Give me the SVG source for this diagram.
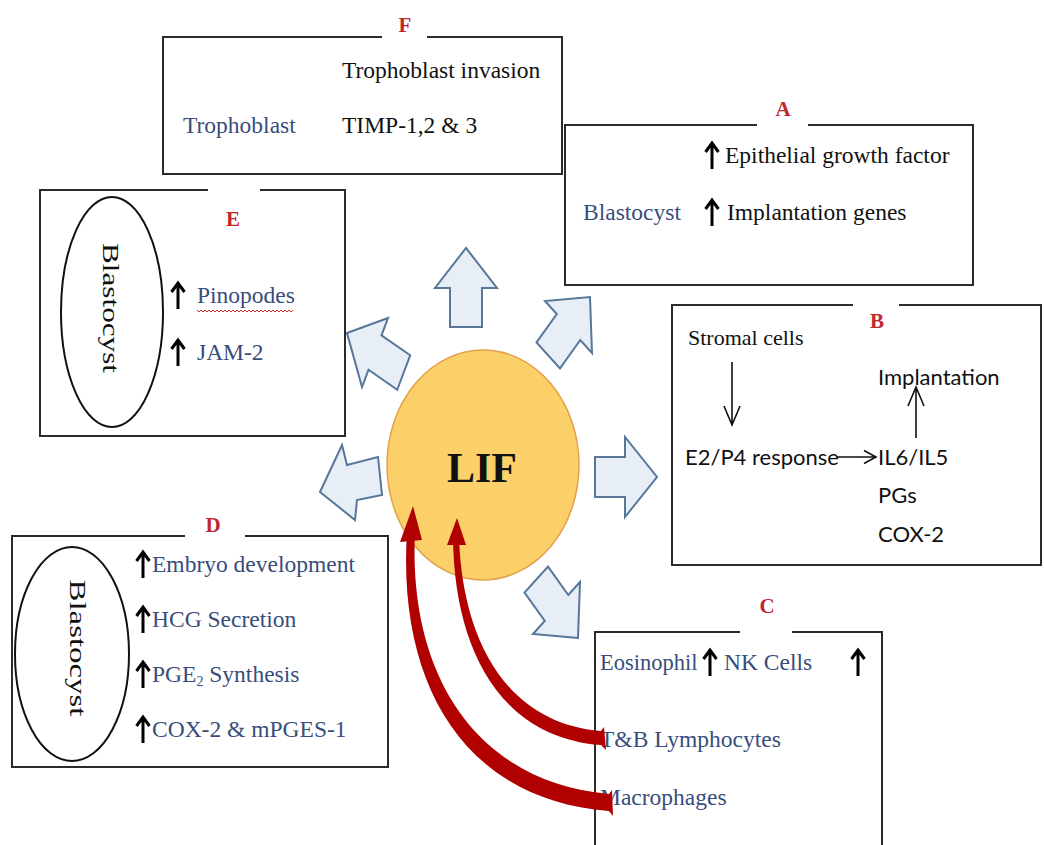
<svg xmlns="http://www.w3.org/2000/svg" width="1044" height="845" viewBox="0 0 1044 845">
<style>
.box{fill:none;stroke:#2b2b2b;stroke-width:2}
.lbl{font-family:"Liberation Serif",serif;font-size:21px;font-weight:bold;fill:#c0272d;text-anchor:middle}
.t{font-family:"Liberation Serif",serif;font-size:23.5px;fill:#111}
.b{font-family:"Liberation Serif",serif;font-size:23.5px;fill:#384d7c}
.s{font-family:Lato,"Liberation Sans",sans-serif;font-size:22px;fill:#111}
.up{fill:none;stroke:#000;stroke-width:3;stroke-linejoin:miter}
.thin{fill:none;stroke:#111;stroke-width:1.6}
.blk{fill:#e8eef6;stroke:#56779a;stroke-width:2;stroke-linejoin:miter}
.red{fill:#b00000}
</style>
<defs>
<path id="ua" d="M0,6 V-19 M-6.5,-11 L0,-20 L6.5,-11"/>
</defs>

<g id="F">
<path class="box" d="M382,37 H163 V174 H562 V37 H427"/>
<text class="lbl" x="405" y="32">F</text>
<text class="t" x="342" y="78">Trophoblast invasion</text>
<text class="b" x="183" y="133">Trophoblast</text>
<text class="t" x="342" y="133">TIMP-1,2 &amp; 3</text>
</g>

<g id="A">
<path class="box" d="M757,125 H565 V285 H973 V125 H808"/>
<text class="lbl" x="783" y="116">A</text>
<use href="#ua" class="up" x="712" y="163"/>
<text class="t" x="725" y="163">Epithelial growth factor</text>
<text class="b" x="583" y="220">Blastocyst</text>
<use href="#ua" class="up" x="712" y="220"/>
<text class="t" x="727" y="220">Implantation genes</text>
</g>

<g id="E">
<path class="box" d="M208,190 H40 V436 H345 V190 H260"/>
<text class="lbl" x="233" y="226">E</text>
<ellipse cx="112" cy="312" rx="51" ry="115" fill="none" stroke="#111" stroke-width="2"/>
<text class="t" transform="translate(103,308) rotate(90)" text-anchor="middle" textLength="130" lengthAdjust="spacingAndGlyphs">Blastocyst</text>
<use href="#ua" class="up" x="178" y="303"/>
<text class="b" x="197" y="303">Pinopodes</text>
<path d="M197,310 l2,2 l2,-2 l2,2 l2,-2 l2,2 l2,-2 l2,2 l2,-2 l2,2 l2,-2 l2,2 l2,-2 l2,2 l2,-2 l2,2 l2,-2 l2,2 l2,-2 l2,2 l2,-2 l2,2 l2,-2 l2,2 l2,-2 l2,2 l2,-2 l2,2 l2,-2 l2,2 l2,-2 l2,2 l2,-2 l2,2 l2,-2 l2,2 l2,-2 l2,2 l2,-2 l2,2 l2,-2 l2,2 l2,-2 l2,2 l2,-2 l2,2 l2,-2 l2,2 l2,-2" fill="none" stroke="#d03030" stroke-width="1"/>
<use href="#ua" class="up" x="178" y="360"/>
<text class="b" x="197" y="360">JAM-2</text>
</g>

<g id="B">
<path class="box" d="M853,305 H672 V565 H1041 V305 H899"/>
<text class="lbl" x="877" y="328">B</text>
<text class="t" x="688" y="345" style="font-size:22px">Stromal cells</text>
<text class="s" x="878" y="385">Implantation</text>
<text class="s" x="685" y="465">E2/P4 response</text>
<text class="s" x="878" y="465">IL6/IL5</text>
<text class="s" x="878" y="503">PGs</text>
<text class="s" x="878" y="542">COX-2</text>
</g>

<g id="C">
<path class="box" d="M740,632 H595 V850 M882,850 V632 H792"/>
<text class="lbl" x="767" y="613">C</text>
<text class="b" x="600" y="670" style="font-size:22.5px">Eosinophil</text>
<use href="#ua" class="up" x="710" y="670"/>
<text class="b" x="724" y="670">NK Cells</text>
<use href="#ua" class="up" x="858" y="670"/>
<text class="b" x="600" y="747">T&amp;B Lymphocytes</text>
<text class="b" x="600" y="805">Macrophages</text>
</g>

<g id="D">
<path class="box" d="M185,536 H12 V767 H388 V536 H245"/>
<text class="lbl" x="213" y="532">D</text>
<ellipse cx="72" cy="654" rx="57" ry="107" fill="none" stroke="#111" stroke-width="2"/>
<text class="t" transform="translate(70,648) rotate(90)" text-anchor="middle" textLength="137" lengthAdjust="spacingAndGlyphs">Blastocyst</text>
<use href="#ua" class="up" x="143" y="572"/>
<text class="b" x="152" y="572">Embryo development</text>
<use href="#ua" class="up" x="143" y="627"/>
<text class="b" x="152" y="627">HCG Secretion</text>
<use href="#ua" class="up" x="143" y="682"/>
<text class="b" x="152" y="682">PGE<tspan font-size="14" dy="4">2</tspan><tspan dy="-4"> Synthesis</tspan></text>
<use href="#ua" class="up" x="143" y="737"/>
<text class="b" x="152" y="737">COX-2 &amp; mPGES-1</text>
</g>

<g id="LIF">
<ellipse cx="483" cy="465" rx="96" ry="115" fill="#fcd068" stroke="#e3a04a" stroke-width="1.5"/>
<text x="482" y="482" text-anchor="middle" style="font-family:'Liberation Serif',serif;font-size:42px;font-weight:bold;fill:#111">LIF</text>
</g>

<g id="connectors">
<polygon class="blk" points="450,327 450,288 435,288 466,248 497,288 482,288 482,327"/>
<polygon class="blk" points="536.5,342.4 556.8,314 545,301 590,297 592,353 580.3,340 560,368.4"/>
<polygon class="blk" points="595,457 625,457 625,437 657,477 625,517 625,497 595,497"/>
<polygon class="blk" points="347,333 388,318 381.5,335.3 410.2,355.3 397.2,389.8 368.5,369.8 362,387"/>
<polygon class="blk" points="320,492 342,445 347,465 378,457 382,495 357,500 355,520"/>
<polygon class="blk" points="578,638 533,634 544.8,621 524.5,592.6 548,566.6 568.3,595 580,582"/>
<path class="thin" d="M732,362 V424 M724,406 L732,425 L740,406"/>
<path class="thin" d="M916,438 V388 M908,406 L916,387 L924,406"/>
<path class="thin" d="M837,457 H875 M864,450.5 L876,457 L864,463.5"/>
<path class="red" d="M453,537 C454,645 497,737 601,745 L606,750 L604,727 L601,731 C503,723 462,635 459,537 Z"/>
<polygon class="red" points="447,545 457,518 466,545"/>
<path class="red" d="M407,532 C397,685 465,800 609,811 L613,816 L612,790 L609,794 C476,782 408,675 415,532 Z"/>
<polygon class="red" points="400,542 413,506 422,540"/>
</g>
</svg>
